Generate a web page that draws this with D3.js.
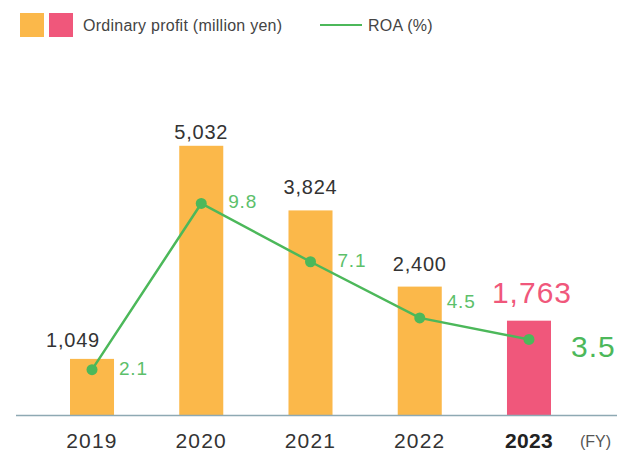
<!DOCTYPE html>
<html>
<head>
<meta charset="utf-8">
<script src="https://cdn.jsdelivr.net/npm/d3@7"></script>
<style>
  body { margin: 0; background: #fff; }
  text { font-family: "Liberation Sans", Arial, sans-serif; }
</style>
</head>
<body>
<script type="text/javascript">

  var years = ["2019", "2020", "2021", "2022", "2023"];
  var profit = [1049, 5032, 3824, 2400, 1763];
  var roa = [2.1, 9.8, 7.1, 4.5, 3.5];

  var w = 617, h = 457;
  var base = 415;
  var orange = "#fbb84a", pink = "#f0577b", green = "#4cb85a";

  var fmt = d3.format(",");

  var svg = d3.select("body").append("svg")
      .attr("width", w)
      .attr("height", h);

  var x = d3.scaleBand().domain(years).range([70, 551]).paddingInner(0.597).paddingOuter(0);
  var y = d3.scaleLinear().domain([0, 6000]).range([base, 94]);
  var y2 = d3.scaleLinear().domain([0, 12]).range([base, 156]);

  var last = years.length - 1;
  var mid = function(d, i) { return x(years[i]) + x.bandwidth() / 2; };

  // bars
  svg.selectAll("rect.bar")
    .data(profit)
    .enter().append("rect")
      .attr("class", "bar")
      .attr("x", function(d, i) { return x(years[i]); })
      .attr("y", function(d) { return y(d); })
      .attr("width", x.bandwidth())
      .attr("height", function(d) { return base - y(d); })
      .attr("fill", function(d, i) { return i == last ? pink : orange; });

  // axis line
  svg.append("line")
    .attr("x1", 16).attr("x2", w)
    .attr("y1", base + 0.5).attr("y2", base + 0.5)
    .attr("stroke", "#8ea9b3")
    .attr("stroke-width", 1.5);

  // bar labels (nudged by hand in the original so they clear the line)
  var gap = [12, 7, 16, 16, 18];
  var shift = [-19, 0, 0, 0, 3];
  svg.selectAll("text.val")
    .data(profit)
    .enter().append("text")
      .attr("class", "val")
      .attr("x", function(d, i) { return mid(d, i) + shift[i]; })
      .attr("y", function(d, i) { return y(d) - gap[i]; })
      .attr("text-anchor", "middle")
      .attr("font-size", function(d, i) { return i == last ? 30 : 20; })
      .attr("letter-spacing", function(d, i) { return i == last ? 1 : 0.8; })
      .attr("fill", function(d, i) { return i == last ? pink : "#333"; })
      .text(function(d) { return fmt(d); });

  // ROA line
  var line = d3.line()
      .x(mid)
      .y(function(d) { return y2(d); });

  svg.append("path")
    .datum(roa)
    .attr("d", line)
    .attr("fill", "none")
    .attr("stroke", green)
    .attr("stroke-width", 2.5);

  svg.selectAll("circle.pt")
    .data(roa)
    .enter().append("circle")
      .attr("class", "pt")
      .attr("cx", mid)
      .attr("cy", function(d) { return y2(d); })
      .attr("r", 5.5)
      .attr("fill", green);

  svg.selectAll("text.roa")
    .data(roa)
    .enter().append("text")
      .attr("class", "roa")
      .attr("x", function(d, i) { return mid(d, i) + (i == last ? 42 : 27); })
      .attr("y", function(d, i) {
        if (i == last) return y2(d) + 18;
        if (i == 3) return y2(d) - 10;
        return y2(d) + 5;
      })
      .attr("font-size", function(d, i) { return i == last ? 30 : 19; })
      .attr("letter-spacing", function(d, i) { return i == last ? 1 : 0.8; })
      .attr("fill", function(d, i) { return i == last ? green : "#5cc06a"; })
      .text(function(d) { return d.toFixed(1); });

  // x labels
  svg.selectAll("text.yr")
    .data(years)
    .enter().append("text")
      .attr("class", "yr")
      .attr("x", function(d) { return x(d) + x.bandwidth() / 2; })
      .attr("y", 448)
      .attr("text-anchor", "middle")
      .attr("font-size", 21)
      .attr("letter-spacing", function(d, i) { return i == last ? 0.3 : 1.2; })
      .attr("font-weight", function(d, i) { return i == last ? "bold" : "normal"; })
      .attr("fill", function(d, i) { return i == last ? "#222" : "#333"; })
      .text(function(d) { return d; });

  svg.append("text")
    .attr("x", 580).attr("y", 447)
    .attr("font-size", 16)
    .attr("fill", "#555")
    .text("(FY)");

  // legend
  svg.append("rect").attr("x", 20).attr("y", 13).attr("width", 24).attr("height", 24).attr("fill", orange);
  svg.append("rect").attr("x", 49).attr("y", 13).attr("width", 24).attr("height", 24).attr("fill", pink);
  svg.append("text").attr("x", 83).attr("y", 31).attr("font-size", 16).attr("letter-spacing", 0.25).attr("fill", "#444")
    .text("Ordinary profit (million yen)");
  svg.append("line").attr("x1", 320).attr("x2", 362).attr("y1", 25).attr("y2", 25)
    .attr("stroke", green).attr("stroke-width", 2);
  svg.append("text").attr("x", 368).attr("y", 31).attr("font-size", 16).attr("letter-spacing", 0.25).attr("fill", "#444")
    .text("ROA (%)");

</script>
</body>
</html>
